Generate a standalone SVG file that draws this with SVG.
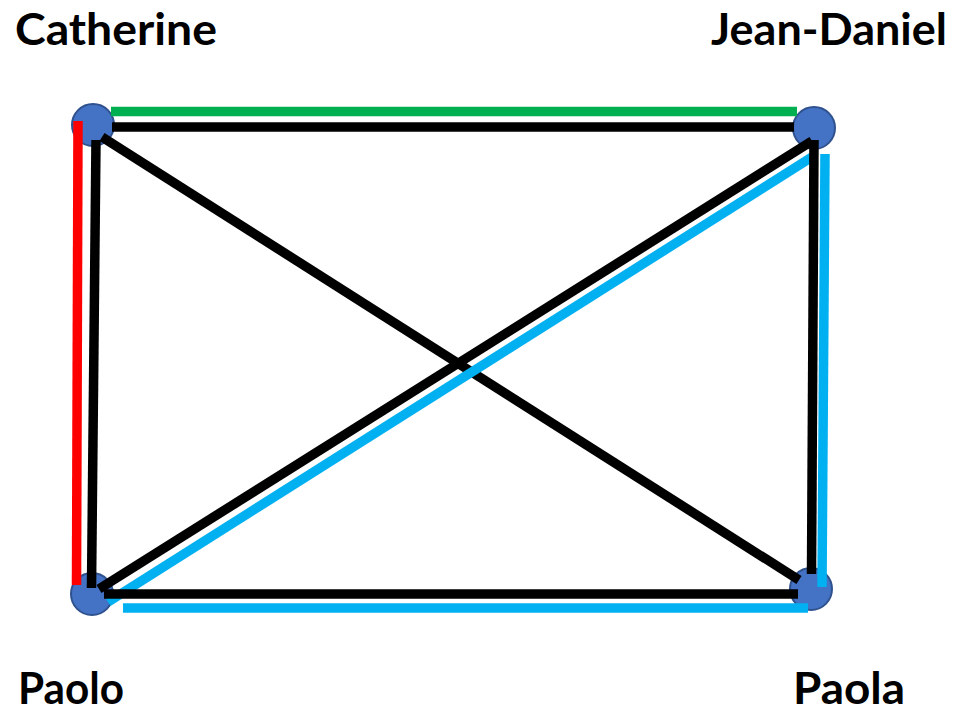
<svg xmlns="http://www.w3.org/2000/svg" width="960" height="713" viewBox="0 0 960 713">
<style>
.node{fill:#4472C4;stroke:#2F528F;stroke-width:2}
.lbl{font-family:Lato,"Open Sans","Liberation Sans",sans-serif;font-weight:bold;font-size:43px;fill:#000}
.e{fill:none;stroke-width:9.5;stroke-linecap:butt}
.k{stroke:#000}
.b{stroke:#00B0F0}
.r{stroke:#FF0000}
.g{stroke:#00B050}
</style>
<rect width="960" height="713" fill="#fff"/>
<g id="node-catherine">
<circle class="node" cx="93" cy="125" r="21"/>
<text class="lbl" x="15" y="45" textLength="202" lengthAdjust="spacingAndGlyphs">Catherine</text>
</g>
<g id="node-jean-daniel">
<circle class="node" cx="814" cy="128" r="21"/>
<text class="lbl" x="711" y="45" textLength="236" lengthAdjust="spacingAndGlyphs">Jean-Daniel</text>
</g>
<g id="node-paolo">
<circle class="node" cx="92" cy="594" r="21"/>
<text class="lbl" x="18" y="703.5" textLength="106" lengthAdjust="spacingAndGlyphs">Paolo</text>
</g>
<g id="node-paola">
<circle class="node" cx="811" cy="589" r="21"/>
<text class="lbl" x="793" y="703.5" textLength="112" lengthAdjust="spacingAndGlyphs">Paola</text>
</g>
<g id="connectors">
<line class="e g" x1="111" y1="111.5" x2="797" y2="111.5"/>
<line class="e k" x1="112" y1="127" x2="794" y2="127"/>
<line class="e r" x1="78" y1="121" x2="76.5" y2="585"/>
<line class="e k" x1="96" y1="140" x2="91.5" y2="588"/>
<line class="e k" x1="102" y1="137" x2="799" y2="580"/>
<line class="e k" x1="99" y1="589" x2="812" y2="141"/>
<line class="e b" x1="108" y1="602" x2="812" y2="157"/>
<line class="e k" x1="814" y1="140" x2="811.5" y2="574"/>
<line class="e b" x1="825" y1="154" x2="822" y2="587"/>
<line class="e k" x1="104" y1="594" x2="798" y2="594"/>
<line class="e b" x1="123" y1="608" x2="808" y2="608"/>
</g>
</svg>
